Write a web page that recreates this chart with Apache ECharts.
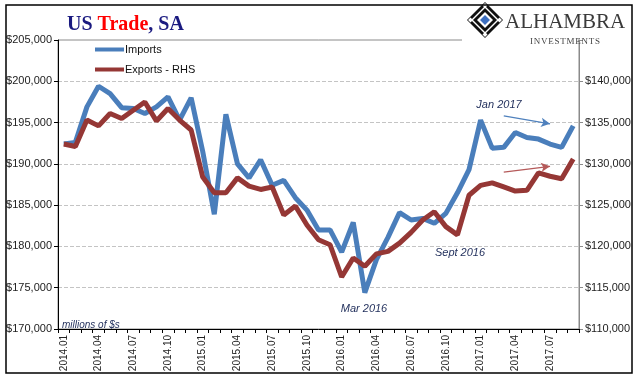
<!DOCTYPE html>
<html>
<head>
<meta charset="utf-8">
<script src="https://cdn.jsdelivr.net/npm/echarts@6/dist/echarts.min.js"></script>
<style>html,body{margin:0;padding:0;background:#fff}#c{width:640px;height:380px}</style>
</head>
<body>
<div id="c"></div>
<script>
var months = [];
(function(){ for (var y = 2014; y <= 2017; y++) for (var m = 1; m <= 12; m++) { if (y === 2017 && m > 9) break; months.push(y + '.' + (m < 10 ? '0' + m : m)); } })();

var imports = [192400,192600,196900,199400,198500,196800,196700,196100,196900,198100,195300,198000,
  191500,183900,196000,190000,188300,190500,187400,188000,185900,184400,182000,182000,
  179300,182900,174400,178400,181100,184100,183200,183400,182800,184000,186500,189300,
  195300,191900,192000,193800,193200,193000,192400,192000,194600];
var exportsRHS = [132400,132100,135300,134600,136100,135500,136500,137500,135200,136700,135300,134100,
  128400,126500,126500,128300,127300,126900,127200,123800,124900,122600,120800,120200,
  116300,118600,117600,119100,119400,120400,121700,123200,124200,122400,121400,126200,
  127400,127700,127200,126700,126800,128900,128500,128200,130600];

var leftTicks = {min:170000, max:205000, step:5000};
var rightTicks = {min:110000, max:145000, step:5000};

function money(v){ return '$' + v.toLocaleString('en-US'); }

var chart = echarts.init(document.getElementById('c'), null, {renderer:'canvas'});
var BLUE = '#4a7ebb', RED = '#953735';
var FONT = 'Liberation Sans';

function diamond(cx, cy, r){ return [[cx, cy - r],[cx + r, cy],[cx, cy + r],[cx - r, cy]]; }

var hs = '\u200A';
var logo = [
  {type:'rect', shape:{x:462, y:30, width:116, height:16}, style:{fill:'#fff'}, z:50},
  {type:'polygon', shape:{points:diamond(485,20,18)}, style:{fill:'#111'}, z:51},
  {type:'polygon', shape:{points:diamond(485,20,14)}, style:{fill:'#fff'}, z:52},
  {type:'polygon', shape:{points:diamond(485,20,12)}, style:{fill:'#111'}, z:53},
  {type:'polygon', shape:{points:diamond(485,20,8)}, style:{fill:'#fff'}, z:54},
  {type:'polygon', shape:{points:diamond(485,20,5)}, style:{fill:'#3d6fc0'}, z:55},
  {type:'polygon', shape:{points:diamond(485,5.5,2.5)}, style:{fill:'#fff'}, z:55},
  {type:'polygon', shape:{points:diamond(485,34.5,2.5)}, style:{fill:'#fff'}, z:55},
  {type:'polygon', shape:{points:diamond(470.5,20,2.5)}, style:{fill:'#fff'}, z:55},
  {type:'polygon', shape:{points:diamond(499.5,20,2.5)}, style:{fill:'#fff'}, z:55},
  {type:'text', x:505, y:22, style:{text:'ALHAMBRA', font:'21px "Liberation Serif"', fill:'#3a3a3a', textVerticalAlign:'middle'}, z:56},
  {type:'text', x:565, y:42, style:{text:'INVESTMENTS'.split('').join(hs), font:'9px "Liberation Serif"', fill:'#444', textAlign:'center', textVerticalAlign:'middle'}, z:56}
];

var annotations = [
  {type:'rect', shape:{x:6, y:5, width:626, height:368}, style:{fill:'none', stroke:'#000', lineWidth:1.5}, z:60},
  {type:'text', x:499, y:105, style:{text:'Jan 2017', font:'italic 11px "Liberation Sans"', fill:'#1f2d5a', textAlign:'center', textVerticalAlign:'middle'}, z:20},
  {type:'text', x:460, y:253, style:{text:'Sept 2016', font:'italic 11px "Liberation Sans"', fill:'#1f2d5a', textAlign:'center', textVerticalAlign:'middle'}, z:20},
  {type:'text', x:364, y:309, style:{text:'Mar 2016', font:'italic 11px "Liberation Sans"', fill:'#1f2d5a', textAlign:'center', textVerticalAlign:'middle'}, z:20},
  {type:'text', x:62, y:325, style:{text:'millions of $s', font:'italic 10px "Liberation Sans"', fill:'#1f2d5a', textVerticalAlign:'middle'}, z:20}
];

chart.setOption({
  animation:false,
  backgroundColor:'#fff',
  textStyle:{fontFamily:FONT},
  title:{
    text:'{a|US }{b|Trade}{a|, SA}', left:62, top:10,
    textStyle:{rich:{
      a:{fontFamily:'Liberation Serif', fontWeight:'bold', fontSize:20, color:'#1a1a80'},
      b:{fontFamily:'Liberation Serif', fontWeight:'bold', fontSize:20, color:'#ff0000'}
    }}
  },
  legend:{
    orient:'vertical', left:95, top:44, padding:0, itemWidth:29, itemHeight:4, itemGap:9,
    icon:'rect',
    textStyle:{fontFamily:FONT, fontSize:11, color:'#111', padding:[0,0,0,-4]},
    data:['Imports','Exports - RHS']
  },
  grid:{left:58, right:61, top:40, bottom:51, show:true, borderColor:'#8a8a8a', borderWidth:1},
  xAxis:{
    type:'category', data:months, boundaryGap:true,
    axisLine:{lineStyle:{color:'#000', width:1}},
    axisTick:{show:true, interval:0, length:4, lineStyle:{color:'#000'}},
    axisLabel:{interval:2, rotate:90, fontSize:10, color:'#222', fontFamily:FONT, margin:6}
  },
  yAxis:[
    {type:'value', min:leftTicks.min, max:leftTicks.max, interval:leftTicks.step, position:'left',
     axisLine:{show:true, lineStyle:{color:'#000', width:1}},
     axisTick:{show:true, length:4, lineStyle:{color:'#000'}},
     axisLabel:{formatter:money, fontSize:11, color:'#222', fontFamily:FONT, margin:6},
     splitLine:{show:true, lineStyle:{color:'#c4c4c4', type:'dashed', width:1}}},
    {type:'value', min:rightTicks.min, max:rightTicks.max, interval:rightTicks.step, position:'right',
     axisLine:{show:true, lineStyle:{color:'#8a8a8a', width:1}},
     axisTick:{show:true, length:4, lineStyle:{color:'#8a8a8a'}},
     axisLabel:{formatter:function(v){ return v >= rightTicks.max ? '' : money(v); }, fontSize:11, color:'#222', fontFamily:FONT, margin:6},
     splitLine:{show:false}}
  ],
  series:[
    {name:'Imports', type:'line', data:imports, yAxisIndex:0, showSymbol:false, symbol:'none',
     lineStyle:{color:BLUE, width:5}, itemStyle:{color:BLUE}, z:3,
     markLine:{silent:true, symbol:['none','arrow'], symbolSize:[7,9], label:{show:false},
       lineStyle:{color:'#4f81bd', width:1.3, type:'solid'},
       data:[[{coord:['2017.03', 195800]}, {coord:['2017.07', 194850]}]]}},
    {name:'Exports - RHS', type:'line', data:exportsRHS, yAxisIndex:1, showSymbol:false, symbol:'none',
     lineStyle:{color:RED, width:5}, itemStyle:{color:RED}, z:4,
     markLine:{silent:true, symbol:['none','arrow'], symbolSize:[7,9], label:{show:false},
       lineStyle:{color:'#b55a5a', width:1.3, type:'solid'},
       data:[[{coord:['2017.03', 129000]}, {coord:['2017.07', 129700]}]]}}
  ],
  graphic:annotations.concat(logo)
});
</script>
</body>
</html>
